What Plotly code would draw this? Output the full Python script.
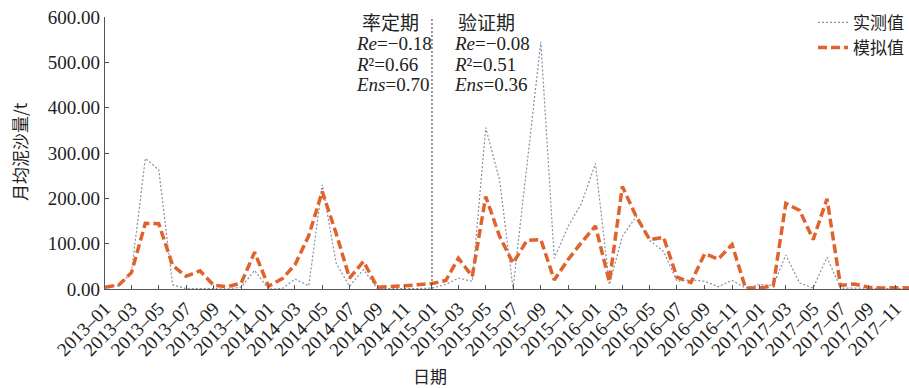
import plotly.graph_objects as go

# Monthly sediment load, 2013-01 .. 2017-12
months = [f"{y}-{m:02d}-01" for y in range(2013, 2018) for m in range(1, 13)]

observed = [5, 8, 36, 288, 263, 9, 1, 1, 0.5, 0.5, 4, 41,
            0, 1, 22, 7, 230, 57, 6, 43, 1, 0.5, 0.5, 1,
            2, 10, 24, 17, 356, 240, 1, 270, 545, 68, 138, 189,
            277, 10, 116, 160, 107, 83, 17, 20, 17, 5, 19, 2,
            10, 8, 75, 13, 2, 70, 2, 2, 1, 1, 1, 1]

simulated = [4, 9, 36, 145, 144, 52, 28, 40, 8, 5, 13, 81,
             6, 23, 53, 118, 215, 123, 24, 61, 4, 5, 7, 9.5,
             12, 19, 68, 28, 204, 116, 57, 107, 109, 20, 65, 103,
             139, 16, 226, 160, 109, 114, 26, 14, 78, 66, 98, 2,
             2, 7, 189, 173, 109, 199, 8, 11, 4, 2, 3, 2]

tick_vals = [f"{y}-{m:02d}-01" for y in range(2013, 2018) for m in range(1, 13, 2)]
tick_text = [f"{y}\u2013{m:02d}" for y in range(2013, 2018) for m in range(1, 13, 2)]

split_date = "2015-01-01"

calib_stats = ["<i>Re</i>=\u22120.18", "<i>R</i>\u00b2=0.66", "<i>Ens</i>=0.70"]
valid_stats = ["<i>Re</i>=\u22120.08", "<i>R</i>\u00b2=0.51", "<i>Ens</i>=0.36"]

SERIF = "Liberation Serif, Times New Roman, serif"
CJK = "Noto Sans CJK SC"

fig = go.Figure()
fig.add_trace(go.Scatter(
    x=months, y=observed, mode="lines", name="实测值",
    line=dict(color="#8391a3", width=1.2, dash="2px,2px"),
))
fig.add_trace(go.Scatter(
    x=months, y=simulated, mode="lines", name="模拟值",
    line=dict(color="#e0622c", width=3.5, dash="9px,4px"),
))

# calibration / validation divider
fig.add_shape(type="line", xref="x", yref="y",
              x0=split_date, x1=split_date, y0=0, y1=608,
              line=dict(color="#333333", width=1, dash="2px,2px"))

annotations = []
annotations.append(dict(text="率定期", x=0.3545, y=0.984, xref="paper", yref="paper",
                        showarrow=False, xanchor="center", yanchor="middle",
                        font=dict(family=CJK, size=19, color="#222")))
annotations.append(dict(text="验证期", x=0.475, y=0.984, xref="paper", yref="paper",
                        showarrow=False, xanchor="center", yanchor="middle",
                        font=dict(family=CJK, size=19, color="#222")))
for k, (a, b) in enumerate(zip(calib_stats, valid_stats)):
    yy = 0.903 - k * 0.076
    annotations.append(dict(text=a, x=0.3097, y=yy, xref="paper", yref="paper",
                            showarrow=False, xanchor="left", yanchor="middle",
                            font=dict(family=SERIF, size=19, color="#222")))
    annotations.append(dict(text=b, x=0.4316, y=yy, xref="paper", yref="paper",
                            showarrow=False, xanchor="left", yanchor="middle",
                            font=dict(family=SERIF, size=19, color="#222")))
annotations.append(dict(text="月均泥沙量/t", x=-0.1057, y=0.504, xref="paper", yref="paper",
                        showarrow=False, textangle=-90, xanchor="center", yanchor="middle",
                        font=dict(family=CJK, size=17, color="#222")))
annotations.append(dict(text="日期", x=0.404, y=-0.318, xref="paper", yref="paper",
                        showarrow=False, xanchor="center", yanchor="middle",
                        font=dict(family=CJK, size=17, color="#222")))

fig.update_layout(
    width=909, height=388,
    margin=dict(l=105, r=0, t=17, b=99),
    plot_bgcolor="white", paper_bgcolor="white",
    showlegend=True,
    legend=dict(x=1.0, xanchor="right", y=1.045, yanchor="top",
                font=dict(family=CJK, size=17, color="#222"),
                bgcolor="rgba(0,0,0,0)", tracegroupgap=0),
    annotations=annotations,
    xaxis=dict(
        type="date", range=["2013-01-01", "2017-12-01"],
        tickvals=tick_vals, ticktext=tick_text, tickangle=-45,
        tickfont=dict(family=SERIF, size=19, color="#222"),
        ticks="inside", ticklen=4, tickcolor="#555",
        showline=True, linecolor="#555", linewidth=1.2,
        showgrid=False, zeroline=False,
    ),
    yaxis=dict(
        range=[0, 600], tickvals=[0, 100, 200, 300, 400, 500, 600],
        tickformat=".2f",
        tickfont=dict(family=SERIF, size=19, color="#222"),
        ticks="inside", ticklen=4, tickcolor="#555",
        showline=True, linecolor="#555", linewidth=1.2,
        showgrid=False, zeroline=False,
    ),
)

fig.write_html("out.html")
